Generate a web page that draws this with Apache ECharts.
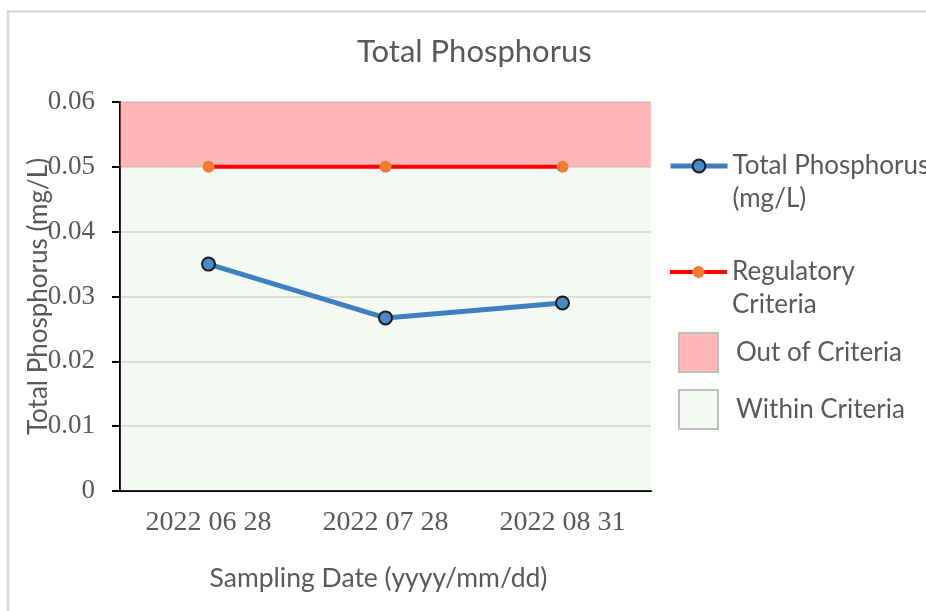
<!DOCTYPE html>
<html>
<head>
<meta charset="utf-8">
<script src="https://cdn.jsdelivr.net/npm/echarts@6/dist/echarts.min.js"></script>
<style>
  html, body { margin: 0; padding: 0; background: #fff; }
  #chart { width: 926px; height: 611px; }
</style>
</head>
<body>
<div id="chart"></div>
<script>
// data
var dates = ['2022 06 28', '2022 07 28', '2022 08 31'];
var phosphorus = [0.035, 0.0267, 0.029];
var criteria = [0.05, 0.05, 0.05];
var outOfBand = [0.05, 0.06];
var withinBand = [0, 0.05];
var yMin = 0, yMax = 0.06, yStep = 0.01;

var sans = 'Lato, "Liberation Sans", sans-serif';
var serif = '"Liberation Serif", "DejaVu Serif", serif';
var grey = '#595959';

// empty first line so the icon sits level with the first text line
var legendText = {
    'Total Phosphorus (mg/L)': ' \nTotal Phosphorus\n(mg/L)',
    'Regulatory Criteria': ' \nRegulatory\nCriteria',
    'Out of Criteria': 'Out of Criteria',
    'Within Criteria': 'Within Criteria'
};
function fmtLegend(name) { return legendText[name]; }

var twoLine = {fontFamily: sans, fontSize: 26, color: grey, lineHeight: 33};
var oneLine = {fontFamily: sans, fontSize: 26, color: grey, lineHeight: 33, padding: [0, 0, 0, 13]};

var chart = echarts.init(document.getElementById('chart'));

var option = {
    backgroundColor: '#fff',
    animation: false,
    title: {
        text: 'Total Phosphorus',
        left: 357,
        top: 35,
        padding: 0,
        textStyle: {fontFamily: sans, fontSize: 31, fontWeight: 'normal', color: grey, lineHeight: 34}
    },
    graphic: [{
        type: 'rect',
        shape: {x: 8, y: 11.5, width: 1000, height: 700},
        style: {fill: 'none', stroke: '#d9d9d9', lineWidth: 2.5},
        silent: true
    }],
    legend: [{
        data: [{name: 'Total Phosphorus (mg/L)', lineStyle: {width: 5}}],
        left: 668, top: 166 - 49.5, padding: 0,
        itemWidth: 57, itemHeight: 16,
        selectedMode: false, formatter: fmtLegend, textStyle: twoLine
    }, {
        data: [{name: 'Regulatory Criteria', lineStyle: {width: 4}}],
        left: 668, top: 272 - 49.5, padding: 0,
        itemWidth: 57, itemHeight: 15,
        selectedMode: false, formatter: fmtLegend, textStyle: twoLine
    }, {
        data: [{name: 'Out of Criteria', icon: 'rect',
            itemStyle: {color: '#ffb7b7', borderColor: '#bfbfbf', borderWidth: 2}}],
        left: 678, top: 332, padding: 0,
        itemWidth: 39, itemHeight: 39,
        selectedMode: false, formatter: fmtLegend, textStyle: oneLine
    }, {
        data: [{name: 'Within Criteria', icon: 'rect',
            itemStyle: {color: '#f4f9f3', borderColor: '#bfbfbf', borderWidth: 2}}],
        left: 678, top: 389, padding: 0,
        itemWidth: 39, itemHeight: 39,
        selectedMode: false, formatter: fmtLegend, textStyle: oneLine
    }],
    grid: {left: 120, right: 275, top: 102, bottom: 120},
    xAxis: {
        type: 'category',
        data: dates,
        boundaryGap: true,
        name: 'Sampling Date (yyyy/mm/dd)',
        nameLocation: 'middle',
        nameGap: 74,
        nameMoveOverlap: false,
        nameTextStyle: {fontFamily: sans, fontSize: 26.5, color: grey, padding: [0, 14, 0, 0]},
        axisLine: {lineStyle: {color: '#000', width: 2}},
        axisTick: {alignWithLabel: true, length: 8, lineStyle: {color: '#000', width: 2}},
        axisLabel: {fontFamily: serif, fontSize: 28, color: grey, margin: 18}
    },
    yAxis: {
        type: 'value',
        min: yMin,
        max: yMax,
        interval: yStep,
        name: 'Total Phosphorus (mg/L)',
        nameLocation: 'middle',
        nameGap: 68,
        nameMoveOverlap: false,
        nameTextStyle: {fontFamily: sans, fontSize: 26, color: grey},
        axisLine: {show: true, lineStyle: {color: '#000', width: 2}},
        axisTick: {show: true, length: 8, lineStyle: {color: '#000', width: 2}},
        axisLabel: {
            fontFamily: serif, fontSize: 27, color: grey, margin: 25,
            formatter: function (v) { return v === 0 ? '0' : v.toFixed(2); }
        },
        splitLine: {show: true, lineStyle: {color: '#d3d3d3', width: 1.5}}
    },
    series: [{
        name: 'Within Criteria',
        type: 'line',
        data: [],
        itemStyle: {color: '#f4f9f3'},
        z: 1,
        markArea: {
            silent: true,
            itemStyle: {color: 'rgba(200,230,195,0.2)'},
            data: [[{yAxis: withinBand[0]}, {yAxis: withinBand[1]}]]
        }
    }, {
        name: 'Out of Criteria',
        type: 'line',
        data: [],
        itemStyle: {color: '#ffb7b7'},
        z: 1,
        markArea: {
            silent: true,
            itemStyle: {color: 'rgba(255,110,110,0.5)'},
            data: [[{yAxis: outOfBand[0]}, {yAxis: outOfBand[1]}]]
        }
    }, {
        name: 'Regulatory Criteria',
        type: 'line',
        data: criteria,
        symbol: 'circle',
        symbolSize: 12,
        lineStyle: {color: '#ff0000', width: 4},
        itemStyle: {color: '#ed7d31'},
        z: 3
    }, {
        name: 'Total Phosphorus (mg/L)',
        type: 'line',
        data: phosphorus,
        symbol: 'circle',
        symbolSize: 13,
        lineStyle: {color: '#3e7fbd', width: 5},
        itemStyle: {color: '#4a8ac6', borderColor: '#1c1c1c', borderWidth: 2},
        z: 4
    }]
};

chart.setOption(option);
</script>
</body>
</html>
